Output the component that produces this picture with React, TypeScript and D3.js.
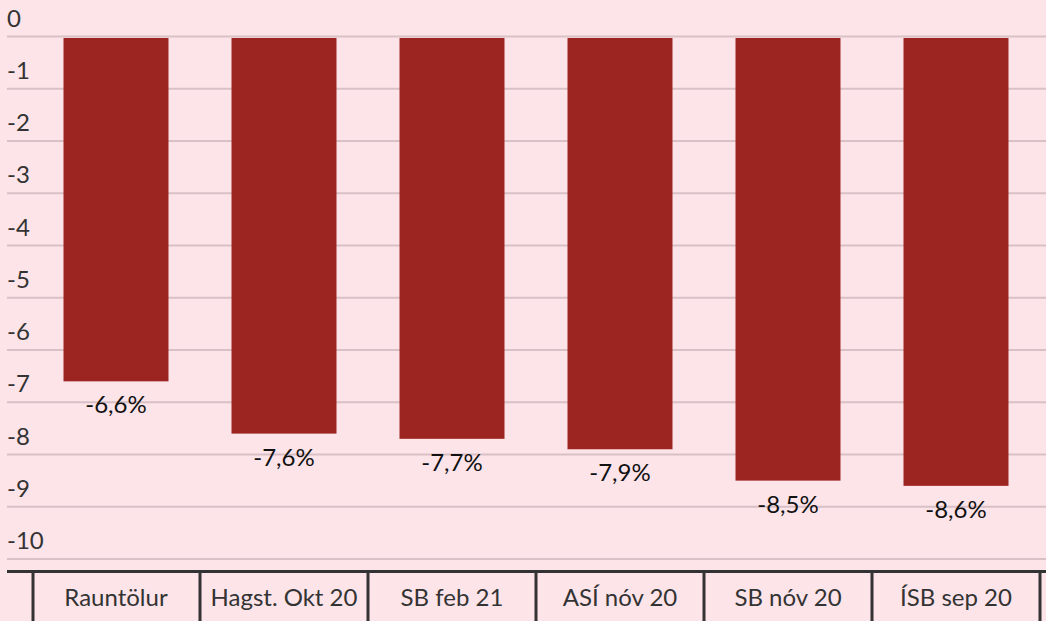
import React from "react";
import * as d3 from "d3";

const categories = ["Rauntölur", "Hagst. Okt 20", "SB feb 21", "ASÍ nóv 20", "SB nóv 20", "ÍSB sep 20"];
const values = [-6.6, -7.6, -7.7, -7.9, -8.5, -8.6];
const valueLabels = ["-6,6%", "-7,6%", "-7,7%", "-7,9%", "-8,5%", "-8,6%"];
const yTicks = [0, -1, -2, -3, -4, -5, -6, -7, -8, -9, -10];

const W = 1046;
const H = 621;
const FONT = "Lato, 'Open Sans', sans-serif";

export default function App() {
  const y = d3.scaleLinear().domain([0, -10]).range([36.5, 559]);
  const x = d3.scaleBand<string>().domain(categories).range([32, 1040]).paddingInner(0).paddingOuter(0);
  const barW = 105;
  const axisY = 571.5;
  return (
    <svg width={W} height={H} style={{ position: "absolute", left: 0, top: 0, background: "#fce4e9" }}>
      <rect x={0} y={0} width={W} height={H} fill="#fce4e9" />
      {yTicks.map((t) => (
        <g key={t}>
          <line x1={7} x2={W} y1={y(t)} y2={y(t)} stroke="#d8c0c6" strokeWidth={2} />
          <text x={7} y={y(t) - 10} fontFamily={FONT} fontSize={24} fill="#333">
            {t}
          </text>
        </g>
      ))}
      {categories.map((c, i) => {
        const cx = (x(c) as number) + x.bandwidth() / 2;
        return (
          <g key={c}>
            <rect x={cx - barW / 2} y={y(0) + 1.5} width={barW} height={y(values[i]) - y(0) - 1.5} fill="#9c2421" />
            <text x={cx} y={y(values[i]) + 32} textAnchor="middle" fontFamily={FONT} fontSize={24} fill="#111">
              {valueLabels[i]}
            </text>
            <text x={cx} y={606} textAnchor="middle" fontFamily={FONT} fontSize={24} fill="#333">
              {c}
            </text>
          </g>
        );
      })}
      <line x1={7} x2={W} y1={axisY} y2={axisY} stroke="#333" strokeWidth={3} />
      {d3.range(categories.length + 1).map((i) => {
        const bx = 32 + i * x.bandwidth() + (i === 0 ? 1 : i === categories.length ? 0 : 0);
        return <line key={i} x1={bx} x2={bx} y1={axisY} y2={H} stroke="#333" strokeWidth={3} />;
      })}
    </svg>
  );
}
